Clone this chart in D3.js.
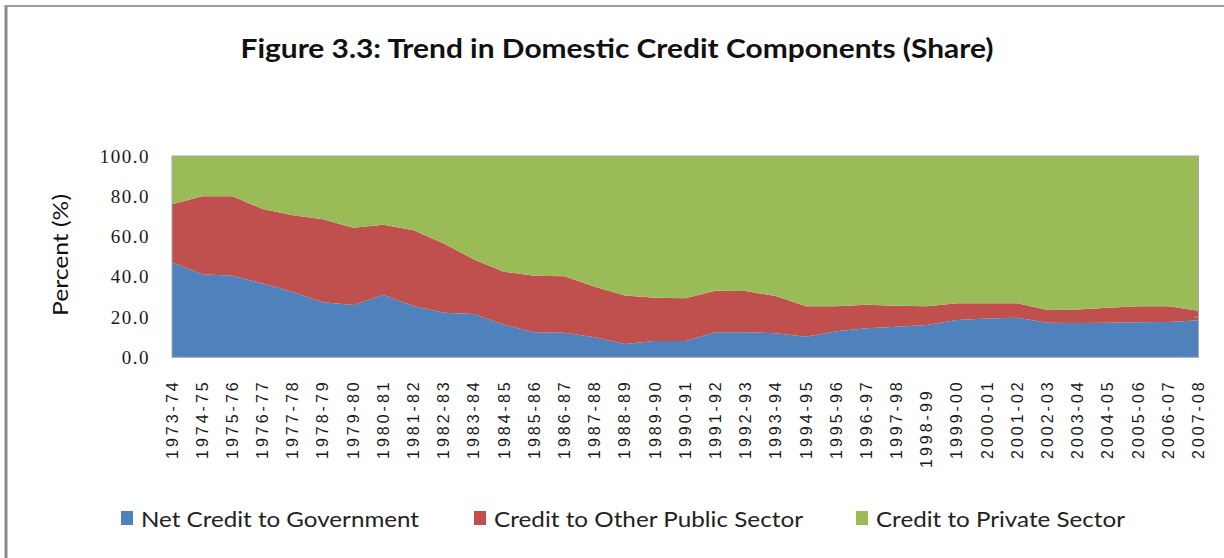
<!DOCTYPE html>
<html><head><meta charset="utf-8">
<script src="https://cdn.jsdelivr.net/npm/d3@7/dist/d3.min.js"></script>
<style>
html,body{margin:0;padding:0;background:#fff;}
svg{display:block;}
</style></head>
<body>
<script>
const years = ["1973-74","1974-75","1975-76","1976-77","1977-78","1978-79","1979-80","1980-81","1981-82","1982-83","1983-84","1984-85","1985-86","1986-87","1987-88","1988-89","1989-90","1990-91","1991-92","1992-93","1993-94","1994-95","1995-96","1996-97","1997-98","1998-99","1999-00","2000-01","2001-02","2002-03","2003-04","2004-05","2005-06","2006-07","2007-08"];
const netCreditGovernment = [47.1,41.2,40.5,36.7,32.5,27.3,26.0,30.9,25.5,22.1,21.5,16.2,12.4,12.2,9.9,6.6,8.1,8.1,12.5,12.5,11.9,10.2,13.0,14.4,15.2,16.0,18.5,19.3,19.6,17.2,17.0,17.2,17.4,17.5,18.4];
const creditOtherPublic = [28.9,38.8,39.5,37.0,38.1,41.3,38.3,34.9,37.6,34.4,27.1,26.3,28.1,28.1,25.1,24.1,21.5,21.2,20.5,20.4,18.5,15.1,12.3,11.7,10.4,9.4,8.4,7.6,7.3,6.3,6.8,7.4,8.0,7.9,4.7];
const creditPrivate = years.map((y,i)=>+(100 - netCreditGovernment[i] - creditOtherPublic[i]).toFixed(1));
const seriesNames = ["Net Credit to Government","Credit to Other Public Sector","Credit to Private Sector"];
const colors = ["#4f81bd","#c0504d","#9bbb59"];
const yTicks = [0,20,40,60,80,100];

const W=1224,H=558;
const svg=d3.select("body").append("svg").attr("width",W).attr("height",H);

// outer frame
svg.append("line").attr("x1",6).attr("x2",6).attr("y1",5).attr("y2",H).attr("stroke","#8c8c8c").attr("stroke-width",3);
svg.append("line").attr("x1",5).attr("x2",W).attr("y1",6).attr("y2",6).attr("stroke","#9a9a9a").attr("stroke-width",2);

const L=172,R=1198.5,T=156,B=357.3;
const x=d3.scalePoint().domain(years).range([L,R]);
const y=d3.scaleLinear().domain([0,100]).range([B,T]);

const table=years.map((yr,i)=>({year:yr,gov:netCreditGovernment[i],other:creditOtherPublic[i],priv:creditPrivate[i]}));
const stack=d3.stack().keys(["gov","other","priv"]);
const layers=stack(table);
const area=d3.area().x(d=>x(d.data.year)).y0(d=>y(d[0])).y1(d=>y(Math.min(100,d[1])));

svg.append("g").selectAll("path").data(layers).join("path")
  .attr("d",area).attr("fill",(d,i)=>colors[i]);

// plot border
svg.append("rect").attr("x",L).attr("y",T).attr("width",R-L).attr("height",B-T)
  .attr("fill","none").attr("stroke","#a6a6a6").attr("stroke-width",1);

// y axis
const yAxis=d3.axisLeft(y).tickValues(yTicks).tickFormat(d3.format(".1f")).tickSize(0).tickPadding(22);
const gy=svg.append("g").attr("transform",`translate(${L},0)`).call(yAxis);
gy.select(".domain").remove();
gy.selectAll("text").attr("font-family","'Liberation Serif', serif").attr("font-size",19)
  .attr("letter-spacing","1.5px").attr("fill","#1a1a1a");

// right-side small ticks
svg.append("g").selectAll("line").data(yTicks.slice(1,-1)).join("line")
  .attr("x1",R-4).attr("x2",R).attr("y1",d=>y(d)).attr("y2",d=>y(d)).attr("stroke","#a6a6a6");

// x axis
const xAxis=d3.axisBottom(x).tickSize(0).tickPadding(0);
const gx=svg.append("g").attr("transform",`translate(0,${B})`).call(xAxis);
gx.select(".domain").remove();
gx.selectAll("text")
  .attr("transform",d=>`translate(5,${d==="1998-99"?31:22}) rotate(-90)`)
  .attr("text-anchor","end").attr("dy","0")
  .attr("x",0).attr("y",0)
  .attr("font-family","'Liberation Sans', Arial, sans-serif").attr("font-size",16)
  .attr("letter-spacing","3px").attr("fill","#1a1a1a");

// title
svg.append("text").attr("x",617).attr("y",58).attr("text-anchor","middle")
  .attr("font-family","Lato, 'Open Sans', sans-serif").attr("font-weight","bold").attr("font-size",27)
  .attr("textLength",753).attr("lengthAdjust","spacingAndGlyphs")
  .attr("fill","#111").text("Figure 3.3: Trend in Domestic Credit Components (Share)");

// y label
svg.append("text").attr("transform","translate(68,255) rotate(-90)").attr("text-anchor","middle")
  .attr("font-family","Lato, 'Open Sans', sans-serif").attr("font-size",21)
  .attr("textLength",122).attr("lengthAdjust","spacingAndGlyphs")
  .attr("fill","#111").text("Percent (%)");

// legend
const legX=[121,474,856];
const legW=[278,309,249];
const lg=svg.append("g").selectAll("g").data(seriesNames).join("g")
  .attr("transform",(d,i)=>`translate(${legX[i]},519)`);
lg.append("rect").attr("x",0).attr("y",-8).attr("width",12).attr("height",14).attr("fill",(d,i)=>colors[i]);
lg.append("text").attr("x",20).attr("y",8).attr("font-family","Lato, 'Open Sans', sans-serif")
  .attr("font-size",22).attr("textLength",(d,i)=>legW[i]).attr("lengthAdjust","spacingAndGlyphs")
  .attr("fill","#222").text(d=>d);
</script>
</body></html>
